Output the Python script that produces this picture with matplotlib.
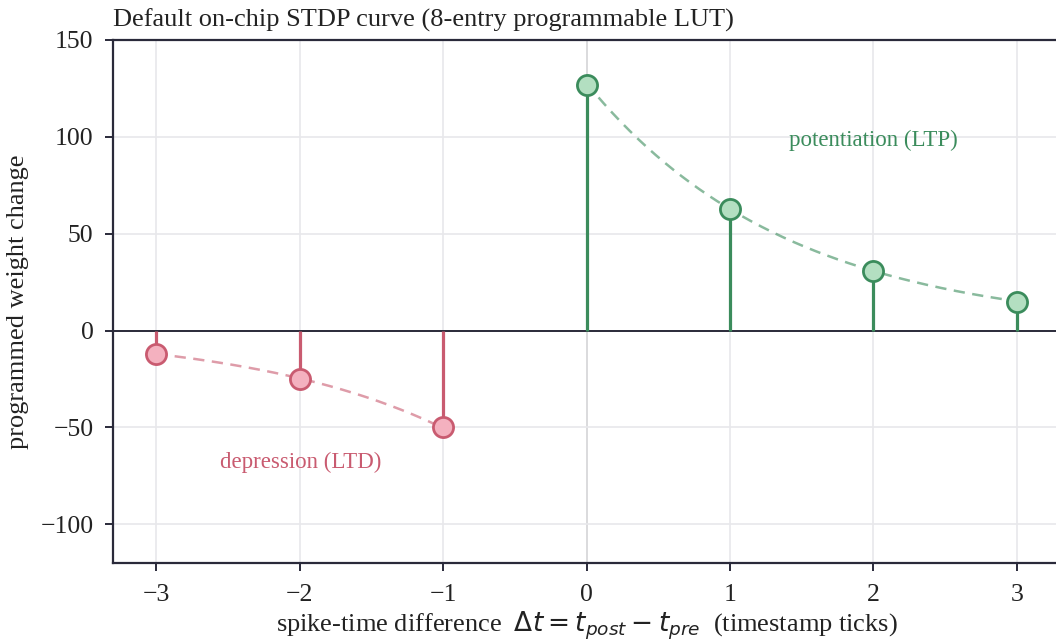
import numpy as np
import matplotlib.pyplot as plt

# 8-entry STDP lookup table (dt in timestamp ticks -> weight delta)
ltp_dt = [0, 1, 2, 3]
ltp_dw = [127, 63, 31, 15]
ltd_dt = [-3, -2, -1]
ltd_dw = [-12, -25, -50]

green = '#3b8c5c'
green_face = '#b3dfc1'
red = '#c95b70'
red_face = '#f4b1bf'
ink = '#2a2a3a'

plt.rcParams['font.family'] = ['Liberation Serif', 'DejaVu Serif']
plt.rcParams['mathtext.fontset'] = 'dejavusans'

fig = plt.figure(figsize=(10.56, 6.43), dpi=100)
ax = fig.add_axes([0.107, 0.1244, 0.8968, 0.8134])

ax.grid(True, color='#e8e8eb', linewidth=1.2, zorder=0)
ax.axhline(0, color=ink, linewidth=1.4, zorder=2)
ax.axvline(0, color='#8a8a8a', linewidth=1.2, zorder=1)


def exp_fit(dt, dw, x):
    # exponential through the table entries (fit in log space)
    k, b = np.polyfit(dt, np.log(np.abs(dw)), 1)
    return np.sign(dw[0]) * np.exp(k * x + b)


xs = np.linspace(min(ltp_dt), max(ltp_dt), 200)
ax.plot(xs, exp_fit(ltp_dt, ltp_dw, xs), '--', color=green, alpha=0.6,
        linewidth=1.8, dashes=(4.5, 3), zorder=3)
xs = np.linspace(min(ltd_dt), max(ltd_dt), 200)
ax.plot(xs, exp_fit(ltd_dt, ltd_dw, xs), '--', color=red, alpha=0.6,
        linewidth=1.8, dashes=(4.5, 3), zorder=3)

ax.vlines(ltp_dt, 0, ltp_dw, color=green, linewidth=2.3, zorder=4)
ax.vlines(ltd_dt, 0, ltd_dw, color=red, linewidth=2.3, zorder=4)
ax.scatter(ltp_dt, ltp_dw, s=210, facecolor=green_face, edgecolor=green,
           linewidth=2, zorder=5)
ax.scatter(ltd_dt, ltd_dw, s=210, facecolor=red_face, edgecolor=red,
           linewidth=2, zorder=5)

ax.text(2.0, 98, 'potentiation (LTP)', color=green, fontsize=16.5,
        ha='center', va='center')
ax.text(-1.99, -68, 'depression (LTD)', color=red, fontsize=16.5,
        ha='center', va='center')

ax.set_xlim(-3.3, 3.3)
ax.set_ylim(-120, 150)
ax.set_xticks([-3, -2, -1, 0, 1, 2, 3])
ax.set_yticks([-100, -50, 0, 50, 100, 150])
ax.tick_params(labelsize=18.5, color=ink, length=6, width=1.4, labelcolor='#222',
               pad=8)
ax.tick_params(axis='x', pad=9)
for side in ['left', 'bottom', 'top']:
    ax.spines[side].set_color(ink)
    ax.spines[side].set_linewidth(1.6)
ax.spines['right'].set_visible(False)

ax.set_xlabel(r'spike-time difference  $\Delta t = t_{post} - t_{pre}$  (timestamp ticks)',
              fontsize=19, color='#222', labelpad=3)
ax.set_ylabel('programmed weight change', fontsize=19, color='#222', labelpad=8)
ax.set_title('Default on-chip STDP curve (8-entry programmable LUT)',
             loc='left', fontsize=19, color='#222', pad=10)

fig.savefig('out.png', dpi=100)
